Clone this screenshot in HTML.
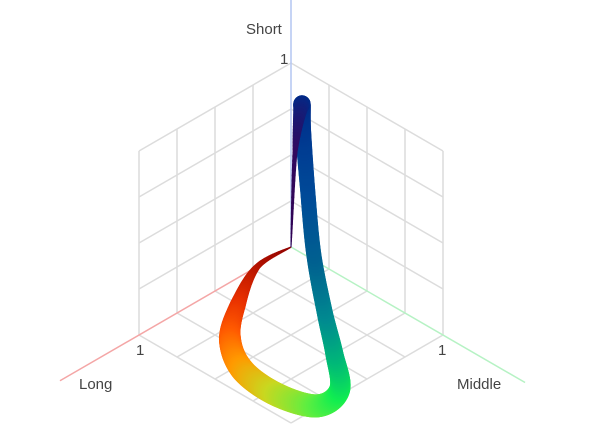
<!DOCTYPE html>
<html><head><meta charset="utf-8"><style>
html,body{margin:0;padding:0;background:#fff;}
svg{display:block;}
text{font-family:"Liberation Sans",sans-serif;font-size:15px;fill:#444;}
</style></head><body>
<svg id="chart" width="605" height="433" viewBox="0 0 605 433">
<g id="grid"></g>
<g id="axes"></g>
<g id="curve"></g>
<text x="246" y="34">Short</text>
<text x="280" y="64">1</text>
<text x="79" y="389">Long</text>
<text x="136" y="355">1</text>
<text x="438" y="355">1</text>
<text x="457" y="389">Middle</text>
</svg>
<script>
// data: curve points in (long, middle, short)
const longVals   = [0, 0.226, 0.518, 0.729, 0.86, 0.885, 0.815, 0.65, 0.62, 0.62, 0.641, 0.547, 0.289, 0.2, 0.08, 0];
const middleVals = [0, 0.002, 0.163, 0.328, 0.545, 0.795, 0.99, 0.97, 0.905, 0.84, 0.79, 0.655, 0.368, 0.27, 0.106, 0];
const shortVals  = [0, 0, 0, 0, 0, 0, 0, 0, 0.15, 0.35, 0.65, 0.9, 0.95, 1.0, 0.6, 0];
const widths     = [1, 6, 16, 22, 24, 24, 23, 21, 18, 16, 15, 15, 16, 17, 5, 1];
const colors     = ["#8b0000","#b01000","#e83000","#ff5a00","#ff9a00","#c8d820","#60ee40","#10ee50","#00b878","#008a90","#006090","#004a98","#003890","#002a88","#300a60","#300050"];
const gridTicks  = [0.25, 0.5, 0.75, 1];

const O = {x:291, y:247};
const UL = {x:-152, y:88}, UM = {x:152, y:88}, US = {x:0, y:-184};
function proj(l, m, s){ return {x:O.x+UL.x*l+UM.x*m+US.x*s, y:O.y+UL.y*l+UM.y*m+US.y*s}; }
const NS = "http://www.w3.org/2000/svg";
function line(g, a, b, stroke, w, name){
  const el = document.createElementNS(NS, "line");
  el.setAttribute("x1", a.x); el.setAttribute("y1", a.y);
  el.setAttribute("x2", b.x); el.setAttribute("y2", b.y);
  el.setAttribute("stroke", stroke); el.setAttribute("stroke-width", w);
  
  
  g.appendChild(el);
}
const grid = document.getElementById("grid");
const gc = "#dcdcdc";
gridTicks.forEach(t => {
  line(grid, proj(t,0,0), proj(t,1,0), gc, 1.5, "floor-grid-line");
  line(grid, proj(0,t,0), proj(1,t,0), gc, 1.5, "floor-grid-line");
  line(grid, proj(t,0,0), proj(t,0,1), gc, 1.5, "left-wall-grid-line");
  line(grid, proj(0,0,t), proj(1,0,t), gc, 1.5, "left-wall-grid-line");
  line(grid, proj(0,t,0), proj(0,t,1), gc, 1.5, "right-wall-grid-line");
  line(grid, proj(0,0,t), proj(0,1,t), gc, 1.5, "right-wall-grid-line");
});
const axes = document.getElementById("axes");
line(axes, proj(0,0,0), proj(1.52,0,0), "#f4a6a6", 1.5, "long-axis-line");
line(axes, proj(0,0,0), proj(0,1.54,0), "#b6f2c4", 1.5, "middle-axis-line");
line(axes, proj(0,0,0), proj(0,0,1.36), "#b4c6f2", 1.5, "short-axis-line");

function hex(c){ return [1,3,5].map(i=>parseInt(c.substr(i,2),16)); }
function mix(a,b,t){ const A=hex(a),B=hex(b); return "rgb("+A.map((v,i)=>Math.round(v+(B[i]-v)*t)).join(",")+")"; }
const pts = longVals.map((l,i)=>proj(l, middleVals[i], shortVals[i]));
const curve = document.getElementById("curve");
const N = pts.length, steps = 20;
function cr(p0,p1,p2,p3,t){
  const t2=t*t,t3=t2*t;
  return 0.5*((2*p1)+(-p0+p2)*t+(2*p0-5*p1+4*p2-p3)*t2+(-p0+3*p1-3*p2+p3)*t3);
}
let prev = pts[0];
for(let i=0;i<N-1;i++){
  const p0=pts[Math.max(i-1,0)], p1=pts[i], p2=pts[i+1], p3=pts[Math.min(i+2,N-1)];
  for(let k=1;k<=steps;k++){
    const t=k/steps;
    const p={x:cr(p0.x,p1.x,p2.x,p3.x,t), y:cr(p0.y,p1.y,p2.y,p3.y,t)};
    const w = widths[i]+(widths[i+1]-widths[i])*t;
    const el = document.createElementNS(NS,"line");
    el.setAttribute("x1",prev.x); el.setAttribute("y1",prev.y);
    el.setAttribute("x2",p.x); el.setAttribute("y2",p.y);
    el.setAttribute("stroke", mix(colors[i],colors[i+1],t));
    el.setAttribute("stroke-width", w);
    el.setAttribute("stroke-linecap","round");
    
    
    curve.appendChild(el);
    prev=p;
  }
}
</script>
</body></html>
